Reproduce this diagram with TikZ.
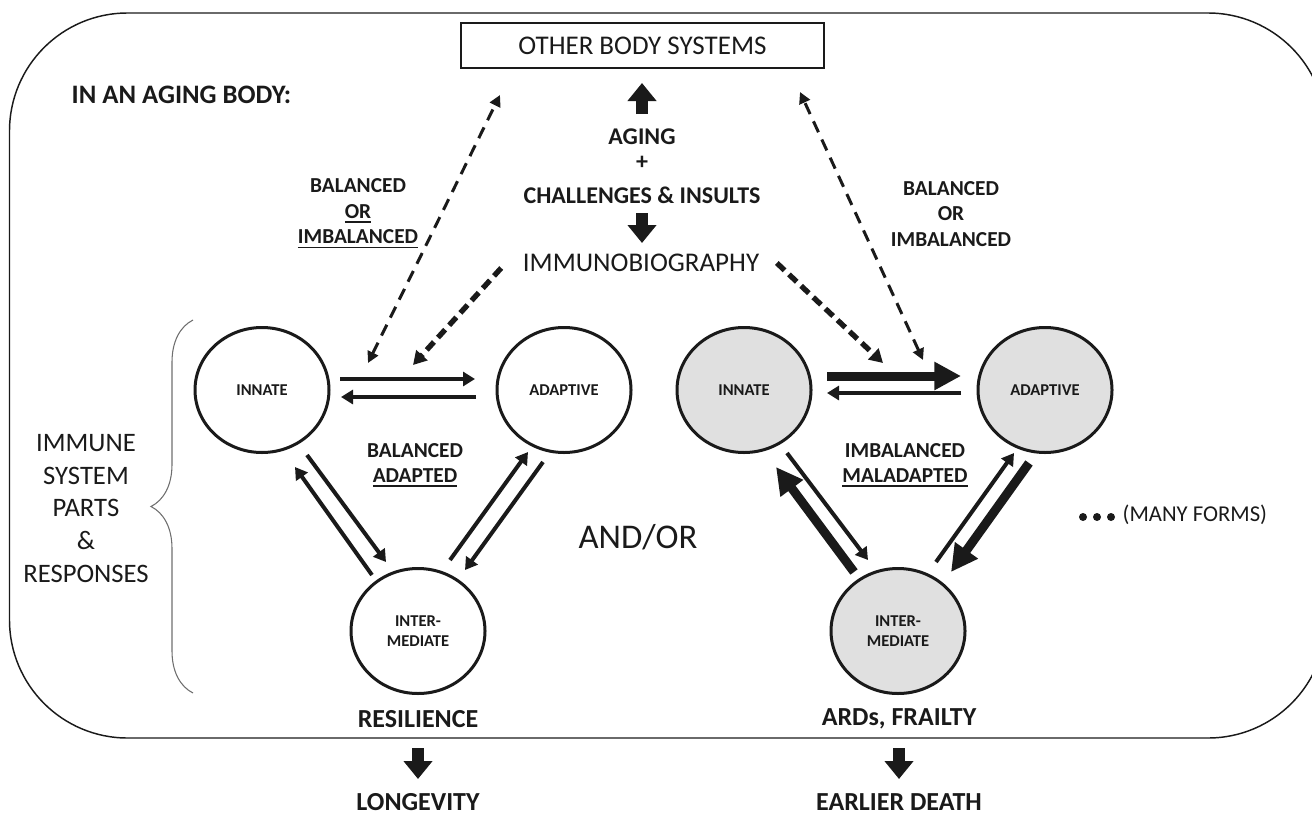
\documentclass[tikz,border=0pt]{standalone}
\usepackage{fontspec}
\setmainfont{Carlito}
\usetikzlibrary{arrows.meta,shapes.geometric,calc,decorations.pathreplacing}
\definecolor{ink}{RGB}{26,26,26}
\definecolor{cfill}{RGB}{224,224,224}
\definecolor{bracegray}{RGB}{110,110,110}
\newcommand{\ulx}[1]{\leavevmode\setbox0=\hbox{#1}\rlap{\rule[-3.6pt]{\wd0}{1.3pt}}\box0}
\begin{document}
\begin{tikzpicture}[x=0.75pt,y=-0.75pt,
  every node/.style={text=ink},
  circ/.style={ellipse,draw=ink,line width=2.25pt,minimum width=100.5pt,minimum height=93.75pt,inner sep=0pt,align=center,font=\bfseries\fontsize{12.4}{15}\selectfont},
  lab/.style={align=center,font=\bfseries\fontsize{16}{19.2}\selectfont},
  thinarr/.style={draw=ink,line width=3pt,-{Triangle[length=9pt,width=10.5pt]}},
  thickarr/.style={draw=ink,line width=6.75pt,-{Triangle[length=20pt,width=20pt]}},
  dthin/.style={draw=ink,line width=2.25pt,dash pattern=on 9pt off 6pt,{Triangle[length=8.5pt,width=8.5pt]}-{Triangle[length=8.5pt,width=8.5pt]}},
  dthick/.style={draw=ink,line width=4pt,dash pattern=on 8pt off 4.5pt,-{Triangle[length=10pt,width=11pt]}},
  blockarr/.style={draw=ink,line width=9pt,-{Triangle[length=13.5pt,width=21pt]}},
  dot/.style={circle,fill=ink,inner sep=0pt,minimum size=6pt}
]
\useasboundingbox (0,0) rectangle (1312,817);

% outer frame
\draw[ink,line width=1.1pt,rounded corners=88.5pt] (9.5,13) rectangle (1326,738);

% top column
\node[draw=ink,line width=1.1pt,minimum width=272.25pt,minimum height=33.75pt,font=\fontsize{20.25}{24}\selectfont] (other) at (642.5,45.5) {OTHER BODY SYSTEMS};
\node[anchor=west,font=\bfseries\fontsize{20}{24}\selectfont] (inaging) at (67,95) {IN AN AGING BODY:};
\node[font=\bfseries\fontsize{18}{21}\selectfont] (aging) at (642,137) {AGING};
\node[font=\bfseries\fontsize{18}{21}\selectfont] (plus) at (642,163) {+};
\node[font=\bfseries\fontsize{18}{21}\selectfont] (chall) at (642,195) {CHALLENGES \& INSULTS};
\node[font=\fontsize{20.25}{24}\selectfont] (immuno) at (641,263) {IMMUNOBIOGRAPHY};

\coordinate (upA) at (642,114);
\coordinate (upB) at (642,83);
\draw[blockarr] (upA) -- (upB);
\coordinate (dnA) at (642,213);
\coordinate (dnB) at (642,243);
\draw[blockarr] (dnA) -- (dnB);

% circles
\node[circ] (inn1) at (262,390) {INNATE};
\node[circ] (ada1) at (564,390) {ADAPTIVE};
\node[circ] (int1) at (418,631) {INTER-\\MEDIATE};
\node[circ,fill=cfill] (inn2) at (744,390) {INNATE};
\node[circ,fill=cfill] (ada2) at (1045,390) {ADAPTIVE};
\node[circ,fill=cfill] (int2) at (898,631) {INTER-\\MEDIATE};

% left triangle arrows
\draw[thinarr] ($(inn1)+(78,-11)$) -- ($(ada1)+(-89,-11)$);
\draw[thinarr] ($(ada1)+(-88,7)$) -- ($(inn1)+(79,7)$);
\draw[thinarr] ($(inn1)+(45,65)$) -- ($(int1)+(-32,-69)$);
\draw[thinarr] ($(int1)+(-46,-56)$) -- ($(inn1)+(33,77)$);
\draw[thinarr] ($(int1)+(32,-71)$) -- ($(ada1)+(-36,62)$);
\draw[thinarr] ($(ada1)+(-21,72)$) -- ($(int1)+(47,-61)$);

% right triangle arrows
\draw[thickarr] ($(inn2)+(83,-14)$) -- ($(ada2)+(-84,-14)$);
\draw[thinarr] ($(ada2)+(-84,3)$) -- ($(inn2)+(83,3)$);
\draw[thinarr] ($(inn2)+(43,63)$) -- ($(int2)+(-30,-71)$);
\draw[thickarr] ($(int2)+(-44,-59)$) -- ($(inn2)+(32,77)$);
\draw[thinarr] ($(int2)+(38,-69)$) -- ($(ada2)+(-31,63)$);
\draw[thickarr] ($(ada2)+(-16,73)$) -- ($(int2)+(53,-59)$);

% dashed arrows
\coordinate (dla) at (500,95);
\coordinate (dlb) at (368,363);
\draw[dthin] (dlb) -- (dla);
\coordinate (dra) at (800,92);
\coordinate (drb) at (923,360);
\draw[dthin] (drb) -- (dra);
\draw[dthick] ($(immuno.west)+(-17,5)$) -- ($(inn1)+(151,-25)$);
\draw[dthick] ($(immuno.east)+(13,0)$) -- ($(ada2)+(-162,-27)$);

% labels
\node[lab] (bal1) at (358,213.5) {BALANCED\\\ulx{OR}\\\ulx{IMBALANCED}};
\node[lab] (bal2) at (951,214) {BALANCED\\OR\\IMBALANCED};
\node[lab,font=\bfseries\fontsize{16}{18.75}\selectfont] (adapt) at (415,465) {BALANCED\\\ulx{ADAPTED}};
\node[lab,font=\bfseries\fontsize{16}{18.75}\selectfont] (malad) at (905,465) {IMBALANCED\\\ulx{MALADAPTED}};
\node[align=center,font=\fontsize{20}{24.5}\selectfont] (immune) at (86,508.5) {IMMUNE\\SYSTEM\\PARTS\\\&\\RESPONSES};
\node[font=\fontsize{26}{30}\selectfont] (andor) at (638,537) {AND/OR};

% brace
\draw[bracegray,line width=0.8pt,decorate,decoration={brace,amplitude=31.5pt}] (193,693) -- (193,320);

% many forms
\node[dot] (d1) at (1083,517) {};
\node[dot] (d2) at (1097,517) {};
\node[dot] (d3) at (1111,517) {};
\node[anchor=west,font=\fontsize{17}{20}\selectfont] (many) at (1118,515) {(MANY FORMS)};

% outcomes
\node[font=\bfseries\fontsize{19.5}{23}\selectfont] (resil) at (418,719) {RESILIENCE};
\node[font=\bfseries\fontsize{19.5}{23}\selectfont] (ards) at (899,719) {ARDs, FRAILTY};
\node[font=\bfseries\fontsize{19.5}{23}\selectfont,inner sep=1pt] (longev) at (418,802) {LONGEVITY};
\node[font=\bfseries\fontsize{19.5}{23}\selectfont,inner sep=1pt] (death) at (899,802) {EARLIER DEATH};
\coordinate (b1a) at (418,748);
\coordinate (b1b) at (418,779);
\draw[blockarr] (b1a) -- (b1b);
\coordinate (b2a) at (899,748);
\coordinate (b2b) at (899,779);
\draw[blockarr] (b2a) -- (b2b);
\end{tikzpicture}
\end{document}
